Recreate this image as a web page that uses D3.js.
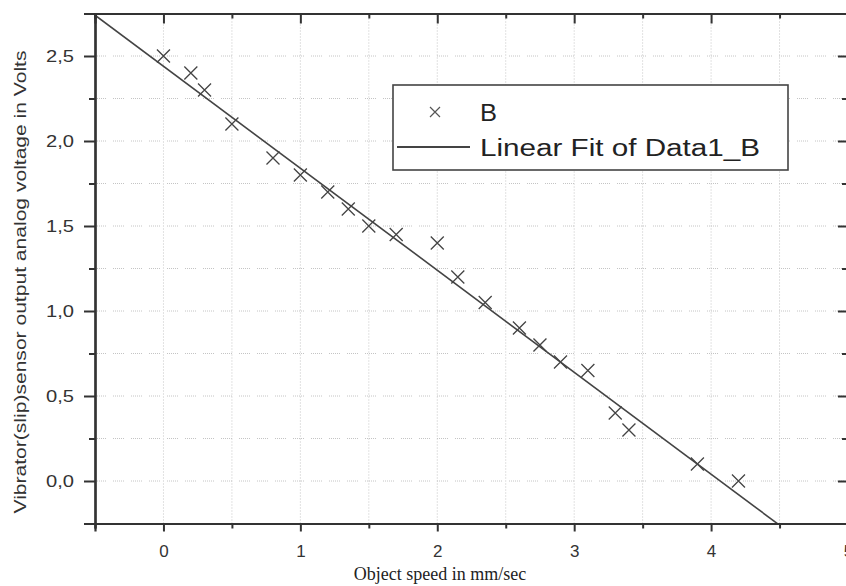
<!DOCTYPE html>
<html><head><meta charset="utf-8">
<script src="https://cdn.jsdelivr.net/npm/d3@7"></script>
<style>body{margin:0;background:#fff}svg{display:block}</style>
</head><body>
<script>
const speedX = [0,0.2,0.3,0.5,0.8,1.0,1.2,1.35,1.5,1.7,2.0,2.15,2.35,2.6,2.75,2.9,3.1,3.3,3.4,3.9,4.2];
const voltY  = [2.5,2.4,2.3,2.1,1.9,1.8,1.7,1.6,1.5,1.45,1.4,1.2,1.05,0.9,0.8,0.7,0.65,0.4,0.3,0.1,0.0];
const fitIntercept = 2.44;
const fitSlope = -0.6;
const xTicks = [0,1,2,3,4,5];
const xMinor = [-0.5,0.5,1.5,2.5,3.5,4.5];
const yTicks = [0,0.5,1.0,1.5,2.0,2.5];
const yMinor = [-0.25,0.25,0.75,1.25,1.75,2.25];
const legendLabels = ["B","Linear Fit of Data1_B"];

(function(){
const W=846,H=586;
const svg=d3.select("body").append("svg").attr("width",W).attr("height",H);
const x=d3.scaleLinear().domain([-0.5,5]).range([95,848]);
const y=d3.scaleLinear().domain([-0.25,2.75]).range([523.5,13.5]);
const fmt=d=>d3.format(".1f")(d).replace(".",",");
const axCol="#333", grid="#c4c4c4";
const sans="Liberation Sans, Arial, sans-serif";

const g=svg.append("g");
g.selectAll(".gx").data(xTicks.concat(xMinor).filter(d=>d>-0.5&&d<5)).join("line")
 .attr("x1",d=>x(d)).attr("x2",d=>x(d)).attr("y1",y(-0.25)).attr("y2",y(2.75))
 .attr("stroke",grid).attr("stroke-width",1).attr("stroke-dasharray","1,2");
g.selectAll(".gy").data(yTicks.concat(yMinor).filter(d=>d>-0.25)).join("line")
 .attr("y1",d=>y(d)).attr("y2",d=>y(d)).attr("x1",x(-0.5)).attr("x2",x(5))
 .attr("stroke",grid).attr("stroke-width",1).attr("stroke-dasharray","1,1,1,1,1,1,1,1,1,1,1,7");

svg.append("clipPath").attr("id","c").append("rect")
 .attr("x",x(-0.5)).attr("y",y(2.75)).attr("width",x(5)-x(-0.5)).attr("height",y(-0.25)-y(2.75));

const fx=[-0.5,5];
svg.append("line").attr("clip-path","url(#c)")
 .attr("x1",x(fx[0])).attr("y1",y(fitIntercept+fitSlope*fx[0]))
 .attr("x2",x(fx[1])).attr("y2",y(fitIntercept+fitSlope*fx[1]))
 .attr("stroke","#444").attr("stroke-width",1.6);

const pts=speedX.map((d,i)=>[d,voltY[i]]);
const s=6.5;
const mk=svg.append("g").attr("stroke","#444").attr("stroke-width",1.3);
mk.selectAll("path").data(pts).join("path")
 .attr("d",d=>{const px=x(d[0]),py=y(d[1]);return `M${px-s},${py-s}L${px+s},${py+s}M${px-s},${py+s}L${px+s},${py-s}`;});

const bx=svg.append("g").attr("transform",`translate(0,${y(-0.25)})`)
 .call(d3.axisBottom(x).tickValues(xTicks).tickSize(8).tickPadding(13).tickFormat(d3.format("d")));
svg.append("g").attr("transform",`translate(0,${y(-0.25)})`)
 .call(d3.axisBottom(x).tickValues(xMinor).tickSize(5).tickFormat(""));
const ly_=svg.append("g").attr("transform",`translate(${x(-0.5)},0)`)
 .call(d3.axisLeft(y).tickValues(yTicks).tickSize(11).tickPadding(10).tickFormat(fmt));
svg.append("g").attr("transform",`translate(${x(-0.5)},0)`)
 .call(d3.axisLeft(y).tickValues(yMinor).tickSize(6).tickFormat(""));
svg.append("g").attr("transform",`translate(0,${y(2.75)})`)
 .call(d3.axisTop(x).tickValues(xTicks).tickSize(-10).tickFormat(""));
svg.append("g").attr("transform",`translate(0,${y(2.75)})`)
 .call(d3.axisTop(x).tickValues(xMinor).tickSize(-5).tickFormat(""));
svg.append("g").attr("transform",`translate(${x(5)},0)`)
 .call(d3.axisRight(y).tickValues(yTicks).tickSize(-10).tickFormat(""));
svg.append("g").attr("transform",`translate(${x(5)},0)`)
 .call(d3.axisRight(y).tickValues(yMinor).tickSize(-6).tickFormat(""));
svg.selectAll(".domain").attr("stroke",axCol).attr("stroke-width",2.2);
svg.selectAll(".tick line").attr("stroke",axCol).attr("stroke-width",2);
svg.selectAll(".tick text").attr("fill","#333").attr("font-family",sans).attr("font-size",17);
ly_.selectAll(".tick text").attr("textLength",28).attr("lengthAdjust","spacingAndGlyphs");

svg.append("text").attr("x",440).attr("y",580).attr("text-anchor","middle")
 .attr("font-family","Liberation Serif, Times New Roman, serif").attr("font-size",18).attr("fill","#222")
 .text("Object speed in mm/sec");
svg.append("text").attr("transform",`translate(26,282) rotate(-90)`).attr("text-anchor","middle")
 .attr("font-family",sans).attr("font-size",16).attr("fill","#333")
 .attr("textLength",463).attr("lengthAdjust","spacingAndGlyphs")
 .text("Vibrator(slip)sensor output analog voltage in Volts");

const lg=svg.append("g");
lg.append("rect").attr("x",393).attr("y",85).attr("width",395).attr("height",85)
 .attr("fill","#fff").attr("stroke","#444").attr("stroke-width",1.6);
const lx=435,ly=112,ls=5;
lg.append("path").attr("d",`M${lx-ls},${ly-ls}L${lx+ls},${ly+ls}M${lx-ls},${ly+ls}L${lx+ls},${ly-ls}`)
 .attr("stroke","#555").attr("stroke-width",1.2);
lg.append("line").attr("x1",397).attr("x2",470).attr("y1",147).attr("y2",147).attr("stroke","#444").attr("stroke-width",1.8);
lg.selectAll("text").data(legendLabels).join("text")
 .attr("x",480).attr("y",(d,i)=>121+i*35)
 .attr("font-family",sans).attr("font-size",23).attr("fill","#222")
 .attr("textLength",(d,i)=>i===0?17:280).attr("lengthAdjust","spacingAndGlyphs")
 .text(d=>d);
})();
</script>
</body></html>
